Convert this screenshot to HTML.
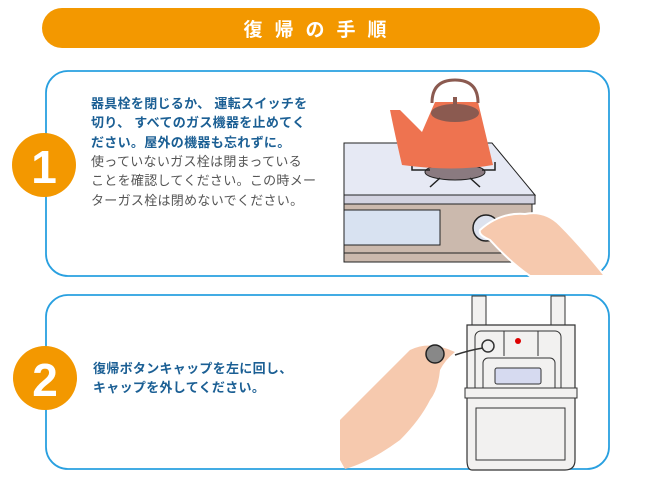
<!DOCTYPE html>
<html><head><meta charset="utf-8"><style>
body{margin:0;width:650px;height:482px;background:#fff;position:relative;overflow:hidden;font-family:"Liberation Sans","Noto Sans CJK JP",sans-serif}
.t{position:absolute;font-size:13px;font-weight:bold;line-height:19.3px;white-space:nowrap;letter-spacing:0.3px}
</style></head><body>
<svg width="650" height="482" style="position:absolute;left:0;top:0">
<rect x="42" y="8" width="558" height="40" rx="20" fill="#f39800"/>
<text x="321" y="36" text-anchor="middle" font-family="Noto Sans CJK JP,sans-serif" font-weight="bold" font-size="19" fill="#fff" letter-spacing="12">復帰の手順</text>
<rect x="46" y="71" width="563" height="205" rx="22" fill="#fff" stroke="#29a0e0" stroke-width="1.8"/>
<rect x="46" y="295" width="563" height="174" rx="22" fill="#fff" stroke="#29a0e0" stroke-width="1.8"/>
<polygon points="344,143 492,143 535,195 344,195" fill="#e6e9f4" stroke="#222" stroke-width="1"/>
<rect x="344" y="195" width="191" height="9" fill="#d3d3e0" stroke="#222" stroke-width="1"/>
<rect x="344" y="204" width="188" height="58" fill="#cbb9ad" stroke="#222" stroke-width="1"/>
<line x1="344" y1="253" x2="532" y2="253" stroke="#222"/>
<rect x="344" y="210" width="96" height="35" fill="#d8e2f1" stroke="#222"/>
<circle cx="486" cy="228" r="13" fill="#dde2ee" stroke="#222" stroke-width="1.5"/>
<ellipse cx="455" cy="172" rx="30" ry="8" fill="#8a7a80" stroke="#222"/>
<path d="M412,162 L412,170 L430,170 M440,178 L430,187 M470,178 L480,187 M495,162 L495,170 L482,170" fill="none" stroke="#222" stroke-width="1.5"/>
<path d="M390,110 L400,110 L422,132 L435,102 L478,102 L493,165 Q455,172 402,165 Q395,135 390,110 Z" fill="#ee7350"/>
<path d="M432,103 Q432,80 455,80 Q478,80 478,103" fill="none" stroke="#8b5a50" stroke-width="3"/>
<ellipse cx="455" cy="113" rx="24" ry="9" fill="#8b5a50"/>
<rect x="453" y="97" width="4" height="10" fill="#8b5a50"/>
<path d="M480,230 Q500,212 525,214 Q545,210 560,225 Q580,245 605,276 L530,276 Q510,262 490,240 Q478,235 480,230 Z" fill="#f6c9ae" stroke="#fff" stroke-width="2"/>
<rect x="472" y="296" width="14" height="30" fill="#f2f1f0" stroke="#333"/>
<rect x="551" y="296" width="14" height="30" fill="#f2f1f0" stroke="#333"/>
<path d="M467,325 L575,325 L575,460 Q575,470 565,470 L472,470 Q467,470 467,460 Z" fill="#f2f1f0" stroke="#333" stroke-width="1.2"/>
<rect x="475" y="331" width="86" height="62" rx="6" fill="#f2f1f0" stroke="#333"/>
<line x1="504" y1="331" x2="504" y2="356" stroke="#333"/><line x1="538" y1="331" x2="538" y2="356" stroke="#333"/>
<circle cx="518" cy="341" r="3" fill="#d00"/>
<circle cx="488" cy="346" r="6" fill="#eee" stroke="#333" stroke-width="1.5"/>
<rect x="483" y="358" width="72" height="38" rx="5" fill="#f2f1f0" stroke="#333"/>
<rect x="495" y="368" width="46" height="16" rx="2" fill="#d6daf0" stroke="#333"/>
<rect x="465" y="388" width="112" height="10" fill="#f2f1f0" stroke="#333"/>
<path d="M476,408 L565,408 L565,460 L476,460 Z" fill="none" stroke="#333"/>
<path d="M455,355 Q470,350 483,348" fill="none" stroke="#333" stroke-width="1.5"/>
<path d="M340,460 L340,420 Q380,380 410,350 Q430,340 455,352 Q445,360 440,370 Q438,390 430,400 Q420,420 400,440 Q370,462 345,469 Z" fill="#f6c9ae"/>
<circle cx="435" cy="354" r="9" fill="#888" stroke="#222" stroke-width="1.5"/>
<circle cx="44" cy="165" r="32" fill="#f39800"/>
<text x="44" y="183" text-anchor="middle" font-family="Liberation Sans,sans-serif" font-weight="bold" font-size="46" fill="#fff">1</text>
<circle cx="45" cy="378" r="32" fill="#f39800"/>
<text x="45" y="396" text-anchor="middle" font-family="Liberation Sans,sans-serif" font-weight="bold" font-size="46" fill="#fff">2</text>
</svg>
<div class="t" style="left:91px;top:94px;color:#1b5f94">器具栓を閉じるか、 運転スイッチを<br>切り、 すべてのガス機器を止めてく<br>ださい。屋外の機器も忘れずに。</div>
<div class="t" style="left:91px;top:152px;color:#555;font-weight:normal">使っていないガス栓は閉まっている<br>ことを確認してください。この時メー<br>ターガス栓は閉めないでください。</div>
<div class="t" style="left:93px;top:359px;color:#1b5f94">復帰ボタンキャップを左に回し、<br>キャップを外してください。</div>
</body></html>
